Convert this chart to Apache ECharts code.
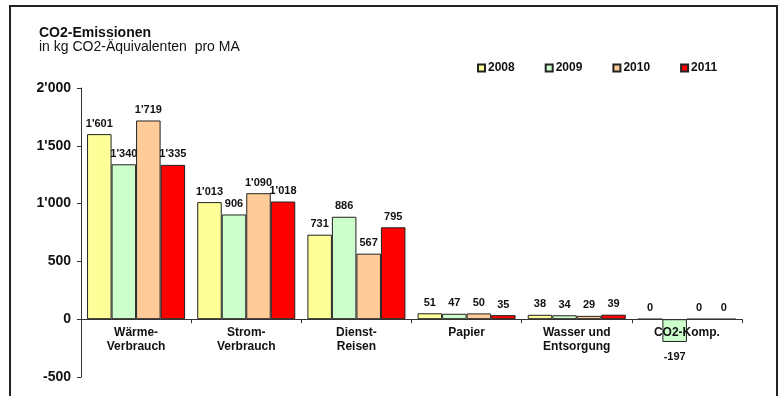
<!DOCTYPE html>
<html>
<head>
<meta charset="utf-8">
<script src="https://cdn.jsdelivr.net/npm/echarts@6/dist/echarts.min.js"></script>
<style>
  html, body { margin: 0; padding: 0; background: #fff; }
  #chart { width: 779px; height: 396px; }
</style>
</head>
<body>
<div id="chart"></div>
<script>
// Emission categories and yearly values (kg CO2-equivalents per employee)
const categories = ['Wärme-\nVerbrauch', 'Strom-\nVerbrauch', 'Dienst-\nReisen', 'Papier', 'Wasser und\nEntsorgung', 'CO2-Komp.'];
const years = ['2008', '2009', '2010', '2011'];
const values2008 = [1601, 1013, 731, 51, 38, 0];
const values2009 = [1340, 906, 886, 47, 34, -197];
const values2010 = [1719, 1090, 567, 50, 29, 0];
const values2011 = [1335, 1018, 795, 35, 39, 0];
const yTicks = { min: -500, max: 2000, step: 500 };

const colors = ['#FFFF99', '#CCFFCC', '#FFCC99', '#FF0000'];
const seriesValues = [values2008, values2009, values2010, values2011];

// Plot box
const gridBox = { left: 81, right: 37, top: 88, bottom: 19 };
const plotHeight = 396 - gridBox.top - gridBox.bottom;
// Category axis sits on the zero line: shift it up from the bottom edge
const zeroOffset = plotHeight * (0 - yTicks.min) / (yTicks.max - yTicks.min);

// Swiss-style thousands separator: 1'601
function fmt(v) {
  return String(v).replace(/\B(?=(\d{3})+(?!\d))/g, "'");
}

const labelFont = {
  fontFamily: '"Liberation Sans Narrow", "Arial Narrow", "Liberation Sans", Arial, sans-serif',
  fontWeight: 'bold',
  fontSize: 11,
  color: '#111'
};

const series = years.map((y, i) => ({
  name: y,
  type: 'bar',
  barGap: '0%',
  barCategoryGap: '11%',
  itemStyle: { color: colors[i], borderColor: '#222', borderWidth: 1 },
  label: Object.assign({
    show: true,
    position: 'top',
    distance: 5,
    formatter: p => fmt(p.value)
  }, labelFont),
  data: seriesValues[i].map(v => v < 0
    ? { value: v, label: { position: 'bottom', distance: 9 } }
    : v)
}));

const chart = echarts.init(document.getElementById('chart'), null, { renderer: 'canvas' });
chart.setOption({
  animation: false,
  backgroundColor: '#fff',
  graphic: [
    {
      type: 'rect',
      shape: { x: 10, y: 6, width: 767, height: 400 },
      style: { fill: 'none', stroke: '#222', lineWidth: 2 },
      z: 10
    },
    {
      type: 'text',
      left: 39, top: 26,
      style: { text: 'CO2-Emissionen', font: 'bold 14px "Liberation Sans", Arial, sans-serif', fill: '#111' }
    },
    {
      type: 'text',
      left: 39, top: 40,
      style: { text: 'in kg CO2-Äquivalenten  pro MA', font: '14px "Liberation Sans", Arial, sans-serif', fill: '#111' }
    }
  ],
  legend: {
    left: 472,
    top: 57,
    itemWidth: 7,
    itemHeight: 7,
    itemGap: 30,
    icon: 'rect',
    data: years,
    textStyle: { fontFamily: '"Liberation Sans", Arial, sans-serif', fontWeight: 'bold', fontSize: 12, color: '#111', padding: [0, 0, 0, -2] }
  },
  grid: Object.assign({ containLabel: false, outerBoundsMode: 'none' }, gridBox),
  xAxis: {
    type: 'category',
    data: categories,
    z: 5,
    offset: -zeroOffset,
    axisLine: { onZero: false, lineStyle: { color: '#333', width: 1 } },
    axisTick: { show: true, length: 4, lineStyle: { color: '#333' } },
    axisLabel: {
      margin: 6,
      interval: 0,
      fontFamily: '"Liberation Sans", Arial, sans-serif',
      fontWeight: 'bold',
      fontSize: 12,
      lineHeight: 14,
      color: '#111'
    }
  },
  yAxis: {
    type: 'value',
    min: yTicks.min,
    max: yTicks.max,
    interval: yTicks.step,
    axisLine: { show: true, lineStyle: { color: '#333', width: 1 } },
    axisTick: { show: true, length: 4, lineStyle: { color: '#333' } },
    splitLine: { show: false },
    axisLabel: {
      margin: 10,
      formatter: v => fmt(v),
      fontFamily: '"Liberation Sans", Arial, sans-serif',
      fontWeight: 'bold',
      fontSize: 14,
      color: '#111'
    }
  },
  series: series
});
</script>
</body>
</html>
